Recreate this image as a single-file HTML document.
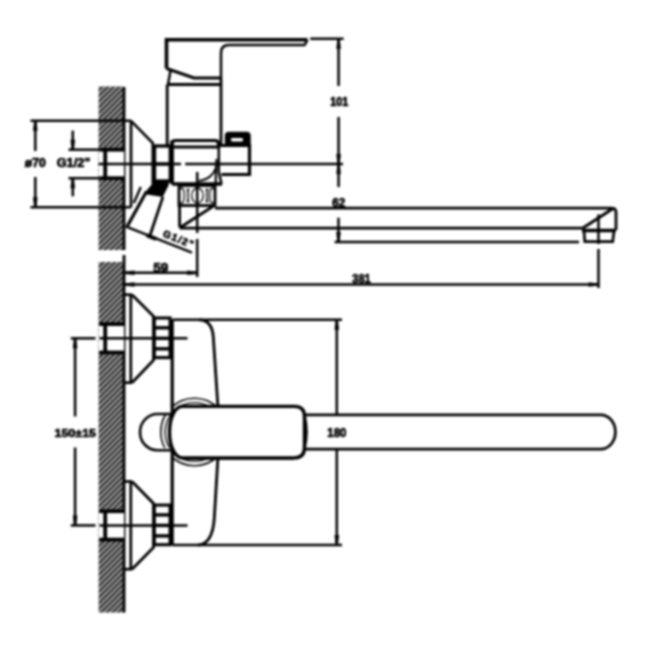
<!DOCTYPE html>
<html><head><meta charset="utf-8"><style>
html,body{margin:0;padding:0;background:#fff;}
svg{display:block;filter:blur(1px);}
text{font-family:"Liberation Sans",sans-serif;fill:#000;stroke:#000;stroke-width:0.7px;}
</style></head><body>
<svg width="650" height="650" viewBox="0 0 650 650" stroke="#000" stroke-linecap="butt">
<defs>
<pattern id="h" x="0.55" y="1.3" width="5.7" height="5.7" patternUnits="userSpaceOnUse">
<rect width="5.7" height="5.7" fill="#2c2c2c" stroke="none"/>
<rect x="0" y="0" width="2" height="2" fill="#cccccc" stroke="none"/>
<rect x="3.8" y="1.9" width="2" height="2" fill="#cccccc" stroke="none"/>
<rect x="1.9" y="3.8" width="2" height="2" fill="#cccccc" stroke="none"/>
</pattern>
<filter id="bl" filterUnits="userSpaceOnUse" x="0" y="0" width="650" height="650"><feGaussianBlur stdDeviation="0.7"/></filter>
<clipPath id="cr"><rect x="173" y="380" width="100" height="110"/><rect x="140" y="415" width="34" height="33"/></clipPath>
</defs>
<g>
<rect width="650" height="650" fill="#fff" stroke="none"/>
<rect x="98.6" y="86.5" width="25.4" height="163.5" fill="url(#h)" stroke="none"/>
<rect x="98.6" y="262" width="25.4" height="350.5" fill="url(#h)" stroke="none"/>
<line x1="124.0" y1="87" x2="124.0" y2="250" stroke-width="2.80" />
<line x1="124.0" y1="255" x2="124.0" y2="612.5" stroke-width="2.80" />
<line x1="30.5" y1="120.8" x2="131" y2="120.8" stroke-width="2.50" />
<line x1="30.5" y1="207.3" x2="131" y2="207.3" stroke-width="2.50" />
<line x1="35.3" y1="120.8" x2="35.3" y2="151" stroke-width="2.50" />
<polygon points="36.40,120.80 37.60,130.80 33.00,130.80 34.20,120.80" fill="#000" stroke="none"/>
<line x1="35.3" y1="177" x2="35.3" y2="207.3" stroke-width="2.50" />
<polygon points="34.20,207.30 33.00,197.30 37.60,197.30 36.40,207.30" fill="#000" stroke="none"/>
<text x="35.35" y="166.7" font-size="12" text-anchor="middle" font-weight="bold" textLength="21" lengthAdjust="spacingAndGlyphs" >ø70</text>
<line x1="68.5" y1="149.7" x2="100" y2="149.7" stroke-width="2.50" />
<line x1="68.5" y1="178.2" x2="100" y2="178.2" stroke-width="2.50" />
<line x1="72.8" y1="130.6" x2="72.8" y2="149.7" stroke-width="2.50" />
<polygon points="71.70,149.70 70.50,139.70 75.10,139.70 73.90,149.70" fill="#000" stroke="none"/>
<line x1="72.8" y1="178.2" x2="72.8" y2="196.3" stroke-width="2.50" />
<polygon points="73.90,178.20 75.10,188.20 70.50,188.20 71.70,178.20" fill="#000" stroke="none"/>
<text x="73.5" y="166.7" font-size="12" text-anchor="middle" font-weight="bold" textLength="33.5" lengthAdjust="spacingAndGlyphs" >G1/2"</text>
<rect x="99" y="149.7" width="25" height="28.5" fill="#fff" stroke="none"/>
<line x1="99.2" y1="149.7" x2="124" y2="149.7" stroke-width="3.80" />
<line x1="99.2" y1="178.2" x2="124" y2="178.2" stroke-width="3.80" />
<line x1="105.2" y1="148.5" x2="105.2" y2="179.39999999999998" stroke-width="3.80" />
<line x1="98.5" y1="164.1" x2="181" y2="164.1" stroke-width="2.50" />
<line x1="185.2" y1="164.1" x2="343" y2="164.1" stroke-width="2.50" />
<line x1="131" y1="120.8" x2="131" y2="207.3" stroke-width="2.70" />
<path d="M131,120.8 L152.8,143 V184" stroke-width="2.60" fill="none" />
<line x1="133.8" y1="203" x2="140.8" y2="187" stroke-width="2.40" />
<rect x="154.5" y="146" width="15.8" height="35" fill="none" stroke-width="3.30"/>
<line x1="154.5" y1="164" x2="170.3" y2="164" stroke-width="3.40" />
<line x1="167.2" y1="84.5" x2="167.2" y2="146" stroke-width="2.80" />
<line x1="221" y1="78" x2="221" y2="145.5" stroke-width="2.80" />
<line x1="167.2" y1="84.5" x2="221" y2="84.5" stroke-width="2.80" />
<line x1="170.5" y1="70.5" x2="168" y2="84.5" stroke-width="2.50" />
<path d="M166.5,68.5 V39.7 H307.5" stroke-width="3.60" fill="none" />
<path d="M307.5,40.2 L304.5,45.1 H229 Q221,45.1 221,53 V78" stroke-width="2.50" fill="none" />
<path d="M166.5,68.5 L194,78 H221" stroke-width="3.00" fill="none" />
<path d="M172,184 V144 Q172,140.5 175.5,140.5 H215 Q218.5,140.5 218.5,144 V147" stroke-width="3.20" fill="none" />
<line x1="172" y1="147" x2="218.5" y2="147" stroke-width="2.80" />
<line x1="172" y1="140.5" x2="172" y2="184" stroke-width="3.60" />
<line x1="172" y1="184" x2="222" y2="184" stroke-width="3.40" />
<path d="M218.8,145.5 H249.5 V174.5 H221.5" stroke-width="3.20" fill="none" />
<path d="M218.8,145.5 V172 L221.5,184" stroke-width="2.50" fill="none" />
<path d="M226,145.5 V136 Q226,133 229,133 H246.5 Q249.5,133 249.5,136 V145.5 Z" stroke-width="2.40" fill="#000" />
<rect x="230.8" y="138" width="12.4" height="3.6" rx="1.8" fill="#fff" stroke="none"/>
<path d="M216.6,165 Q213.5,179 198.7,181" stroke-width="1.90" fill="none" />
<line x1="216.5" y1="159" x2="215.6" y2="184" stroke-width="2.20" />
<polygon points="145,194.2 145.4,192 152.3,183.8 153.8,180.5 168.8,180.5 168.8,185 163.5,195.5 162.7,196.9" fill="#000" stroke="none"/>
<line x1="127.4" y1="226" x2="146.5" y2="191.5" stroke-width="3.20" />
<line x1="162.9" y1="196.9" x2="149.8" y2="236" stroke-width="2.80" />
<rect x="179" y="185.5" width="36" height="20" fill="#fff" stroke-width="2.8"/>
<ellipse cx="181.5" cy="195.5" rx="2.8" ry="7.5" fill="none" stroke-width="1.3"/>
<ellipse cx="197.5" cy="195.5" rx="5.8" ry="7.5" fill="none" stroke-width="1.3"/>
<ellipse cx="212.5" cy="195.5" rx="2.8" ry="7.5" fill="none" stroke-width="1.3"/>
<line x1="188" y1="189.5" x2="188" y2="201.5" stroke-width="1.50" />
<line x1="186.5" y1="189.5" x2="189.5" y2="189.5" stroke-width="1.50" />
<line x1="186.5" y1="201.5" x2="189.5" y2="201.5" stroke-width="1.50" />
<line x1="207" y1="189.5" x2="207" y2="201.5" stroke-width="1.50" />
<line x1="205.5" y1="189.5" x2="208.5" y2="189.5" stroke-width="1.50" />
<line x1="205.5" y1="201.5" x2="208.5" y2="201.5" stroke-width="1.50" />
<line x1="197.2" y1="172" x2="197.2" y2="233" stroke-width="2.50" />
<line x1="197.2" y1="239" x2="197.2" y2="277" stroke-width="2.50" />
<path d="M215,208.2 H611 Q616,208.2 616,212 V230" stroke-width="2.80" fill="none" />
<line x1="179.6" y1="228.1" x2="583" y2="228.1" stroke-width="2.80" />
<line x1="583" y1="228" x2="613" y2="208.5" stroke-width="2.90" />
<line x1="179.6" y1="204" x2="179.6" y2="227.3" stroke-width="2.80" />
<line x1="181" y1="227" x2="213.5" y2="206" stroke-width="2.80" />
<line x1="582" y1="230.5" x2="616" y2="230.5" stroke-width="3.60" />
<path d="M584,231 L584.8,241.6 H612.7 L614,231" stroke-width="2.70" fill="none" />
<line x1="125.5" y1="226.3" x2="192" y2="252.6" stroke-width="2.50" />
<line x1="146.6" y1="235.3" x2="156.2" y2="239.1" stroke-width="3.80" />
<text x="0" y="0" font-size="10" font-weight="bold" text-anchor="start" textLength="32" lengthAdjust="spacing" transform="translate(162.2,236.2) rotate(21.6)">G1/2"</text>
<line x1="310.2" y1="38.8" x2="343.6" y2="38.8" stroke-width="2.50" />
<line x1="338.6" y1="38.8" x2="338.6" y2="86" stroke-width="2.50" />
<polygon points="339.70,38.80 340.90,48.80 336.30,48.80 337.50,38.80" fill="#000" stroke="none"/>
<text x="339.25" y="105.8" font-size="12" text-anchor="middle" font-weight="bold" textLength="18" lengthAdjust="spacingAndGlyphs" >101</text>
<line x1="338.6" y1="117" x2="338.6" y2="187" stroke-width="2.50" />
<polygon points="337.50,164.10 336.30,154.10 340.90,154.10 339.70,164.10" fill="#000" stroke="none"/>
<polygon points="339.70,164.10 340.90,174.10 336.30,174.10 337.50,164.10" fill="#000" stroke="none"/>
<text x="338.85" y="206.5" font-size="12" text-anchor="middle" font-weight="bold" textLength="13" lengthAdjust="spacingAndGlyphs" >62</text>
<line x1="338.5" y1="217.7" x2="338.5" y2="242" stroke-width="2.50" />
<polygon points="337.40,242.00 336.20,232.00 340.80,232.00 339.60,242.00" fill="#000" stroke="none"/>
<line x1="334.6" y1="242" x2="579" y2="242" stroke-width="2.50" />
<line x1="598.5" y1="214.4" x2="598.5" y2="244" stroke-width="2.50" />
<line x1="598.5" y1="249" x2="598.5" y2="288" stroke-width="2.50" />
<line x1="124.5" y1="272.8" x2="197.2" y2="272.8" stroke-width="2.50" />
<polygon points="124.50,271.70 134.50,270.50 134.50,275.10 124.50,273.90" fill="#000" stroke="none"/>
<polygon points="197.20,273.90 187.20,275.10 187.20,270.50 197.20,271.70" fill="#000" stroke="none"/>
<text x="160.75" y="271.7" font-size="13" text-anchor="middle" font-weight="bold" textLength="15" lengthAdjust="spacingAndGlyphs" >59</text>
<line x1="124.5" y1="284.5" x2="598.5" y2="284.5" stroke-width="2.50" />
<polygon points="124.50,283.40 134.50,282.20 134.50,286.80 124.50,285.60" fill="#000" stroke="none"/>
<polygon points="598.50,285.60 588.50,286.80 588.50,282.20 598.50,283.40" fill="#000" stroke="none"/>
<text x="361.55" y="283.3" font-size="12" text-anchor="middle" font-weight="bold" textLength="18.5" lengthAdjust="spacingAndGlyphs" >381</text>
<rect x="99" y="324.1" width="25" height="28.399999999999977" fill="#fff" stroke="none"/>
<line x1="99.2" y1="324.1" x2="124" y2="324.1" stroke-width="3.80" />
<line x1="99.2" y1="352.5" x2="124" y2="352.5" stroke-width="3.80" />
<line x1="105.2" y1="322.90000000000003" x2="105.2" y2="353.7" stroke-width="3.80" />
<line x1="130.8" y1="294.7" x2="130.8" y2="382.7" stroke-width="2.70" />
<line x1="124" y1="294.7" x2="132" y2="294.7" stroke-width="2.70" />
<line x1="124" y1="382.7" x2="132" y2="382.7" stroke-width="2.70" />
<path d="M132,294.7 L153.5,316.3 V360.3 L132,382.7" stroke-width="2.80" fill="none" />
<rect x="154.3" y="318.0" width="15.8" height="39.6" fill="none" stroke-width="3.10"/>
<line x1="154.3" y1="327.8" x2="170.1" y2="327.8" stroke-width="3.40" />
<line x1="154.3" y1="338.3" x2="170.1" y2="338.3" stroke-width="3.40" />
<line x1="154.3" y1="348.8" x2="170.1" y2="348.8" stroke-width="3.40" />
<line x1="70.8" y1="338.3" x2="95.5" y2="338.3" stroke-width="2.50" />
<line x1="99.5" y1="338.3" x2="187.5" y2="338.3" stroke-width="2.50" />
<rect x="99" y="511.2" width="25" height="28.400000000000034" fill="#fff" stroke="none"/>
<line x1="99.2" y1="511.2" x2="124" y2="511.2" stroke-width="3.80" />
<line x1="99.2" y1="539.6" x2="124" y2="539.6" stroke-width="3.80" />
<line x1="105.2" y1="510.0" x2="105.2" y2="540.8000000000001" stroke-width="3.80" />
<line x1="130.8" y1="481.5" x2="130.8" y2="569.2" stroke-width="2.70" />
<line x1="124" y1="481.5" x2="132" y2="481.5" stroke-width="2.70" />
<line x1="124" y1="569.2" x2="132" y2="569.2" stroke-width="2.70" />
<path d="M132,481.5 L153.5,503.4 V547.4 L132,569.2" stroke-width="2.80" fill="none" />
<rect x="154.3" y="505.09999999999997" width="15.8" height="39.6" fill="none" stroke-width="3.10"/>
<line x1="154.3" y1="514.9" x2="170.1" y2="514.9" stroke-width="3.40" />
<line x1="154.3" y1="525.4" x2="170.1" y2="525.4" stroke-width="3.40" />
<line x1="154.3" y1="535.9" x2="170.1" y2="535.9" stroke-width="3.40" />
<line x1="70.8" y1="525.4" x2="95.5" y2="525.4" stroke-width="2.50" />
<line x1="99.5" y1="525.4" x2="187.5" y2="525.4" stroke-width="2.50" />
<line x1="172.2" y1="319.8" x2="172.2" y2="545" stroke-width="3.20" />
<line x1="172.2" y1="319.8" x2="342" y2="319.8" stroke-width="2.50" />
<line x1="172.2" y1="545" x2="342" y2="545" stroke-width="2.70" />
<path d="M199,319.8 C207,319.8 212.5,325 213.3,337 L217.8,405" stroke-width="2.80" fill="none" />
<path d="M217.9,458 L214.3,518 C213.3,536 207,545 198,545" stroke-width="2.80" fill="none" />
<line x1="336.8" y1="319.8" x2="336.8" y2="415" stroke-width="2.50" />
<polygon points="337.90,319.80 339.10,329.80 334.50,329.80 335.70,319.80" fill="#000" stroke="none"/>
<line x1="336.8" y1="449" x2="336.8" y2="545" stroke-width="2.50" />
<polygon points="335.70,545.00 334.50,535.00 339.10,535.00 337.90,545.00" fill="#000" stroke="none"/>
<text x="336.85" y="436.7" font-size="12" text-anchor="middle" font-weight="bold" textLength="19" lengthAdjust="spacingAndGlyphs" >180</text>
<line x1="75.1" y1="338.3" x2="75.1" y2="416.5" stroke-width="2.50" />
<polygon points="76.20,338.30 77.40,348.30 72.80,348.30 74.00,338.30" fill="#000" stroke="none"/>
<line x1="75.1" y1="447.5" x2="75.1" y2="525.4" stroke-width="2.50" />
<polygon points="74.00,525.40 72.80,515.40 77.40,515.40 76.20,525.40" fill="#000" stroke="none"/>
<text x="75.25" y="436.7" font-size="11.5" text-anchor="middle" font-weight="bold" textLength="41.5" lengthAdjust="spacingAndGlyphs" >150±15</text>
<g clip-path="url(#cr)"><circle cx="194.5" cy="432" r="33.7" fill="none" stroke-width="1.6"/><circle cx="194.5" cy="432" r="29.4" fill="none" stroke-width="1.4"/></g>
<path d="M172.5,414 H157.5 A17.5,18.15 0 0 0 157.5,450.3 H172.5" stroke-width="2.60" fill="none" />
<path d="M300,414.9 H600.8 A14.6,17.15 0 0 1 600.8,449.2 H300" stroke-width="2.70" fill="none" />
<path d="M304.6,416 Q308.5,432 304.6,448" stroke-width="2.50" fill="none" />
<path d="M294.5,406.4 H182 A12.5,25.75 0 0,0 182,457.9 H294.5 Q304.5,457.8 304.5,447.5 V416.5 Q304.5,406.4 294.5,406.4 Z" stroke-width="3.40" fill="#fff" />
<line x1="182" y1="458.6" x2="294" y2="458.6" stroke-width="2.40" />
</g>
</svg>
</body></html>
